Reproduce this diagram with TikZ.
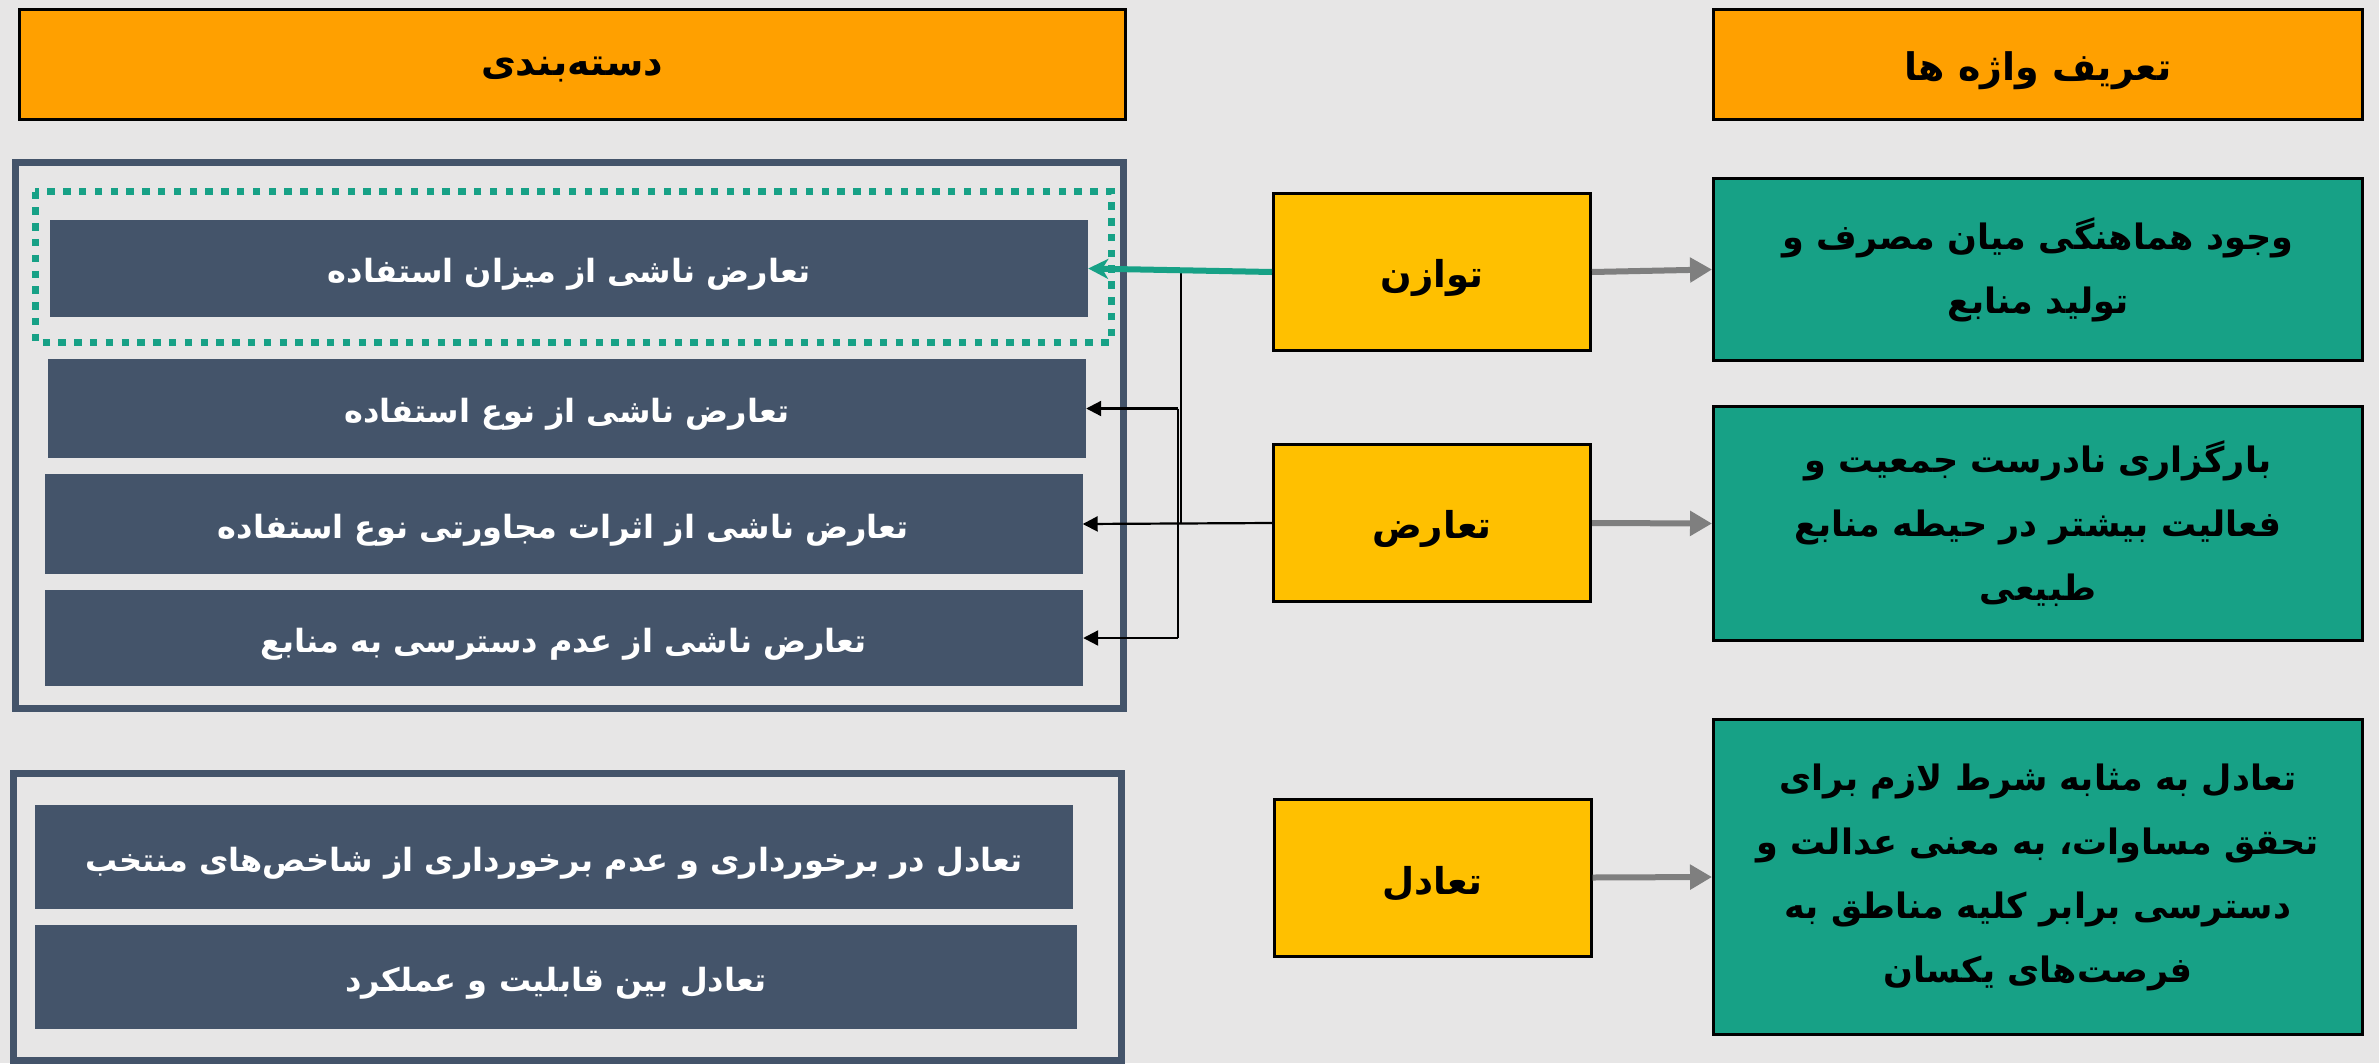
\documentclass[tikz,border=0pt]{standalone}
\usepackage{fontspec}
\usetikzlibrary{arrows.meta}
\TeXXeTstate=1
\newfontfamily\arabicfont[Script=Arabic]{DejaVu Sans}
\newcommand\prs[1]{\beginR #1\endR}
\newcommand\prsd[1]{\raisebox{-6pt}[\height][\depth]{\beginR #1\endR}}
\definecolor{bgc}{HTML}{E7E6E6}
\definecolor{hdrc}{HTML}{FFA000}
\definecolor{yelc}{HTML}{FFC000}
\definecolor{tealc}{HTML}{17A186}
\definecolor{slatec}{HTML}{44546A}
\definecolor{grayc}{HTML}{7F7F7F}
\tikzset{
  hdr/.style={draw=black, line width=3pt, fill=hdrc, inner sep=0pt, minimum height=110pt,
    font=\arabicfont\bfseries\fontsize{38}{44}\selectfont},
  cat/.style={fill=slatec, text=white, inner sep=0pt, minimum width=1038pt,
    font=\arabicfont\bfseries\fontsize{32}{38}\selectfont},
  keybox/.style={draw=black, line width=3pt, fill=yelc, inner sep=0pt, minimum width=317pt, minimum height=157pt,
    font=\arabicfont\bfseries\fontsize{37}{42}\selectfont},
  defbox/.style={draw=black, line width=3pt, fill=tealc, inner sep=0pt, minimum width=649pt, align=center,
    font=\arabicfont\bfseries\fontsize{35}{64}\selectfont},
  frm/.style={draw=slatec, line width=7pt},
  dotfrm/.style={draw=tealc, line width=7pt, dash pattern=on 7.5pt off 8.3pt},
  bline/.style={draw=black, line width=2.2pt},
  barr/.style={bline, -{Triangle[length=15pt,width=15pt]}},
  garr/.style={draw=grayc, line width=6pt, -{Triangle[length=22pt,width=24pt]}},
  tarr/.style={draw=tealc, line width=6pt, -{Stealth[length=20pt,width=20pt,inset=6pt]}}
}
\begin{document}
\begin{tikzpicture}[x=1pt,y=-1pt]
\fill[bgc] (0,0) rectangle (2379,1063);
\useasboundingbox (0,0) rectangle (2379,1063);
% headers
\node[hdr, minimum width=1106pt] (HL) at (572,64) {\prsd{دسته‌بندی}};
\node[hdr, minimum width=649pt] (HR) at (2038,64.5) {\prsd{تعریف واژه ها}};
% frames
\draw[frm] (15,162) rectangle (1123.5,708);
\draw[frm] (13,773.5) rectangle (1121.5,1060);
\draw[dotfrm] (35,191.5) rectangle (1111,342);
% category boxes
\node[cat, minimum height=97pt] (B1) at (569,268.5) {\prsd{تعارض ناشی از میزان استفاده}};
\node[cat, minimum height=99pt] (B2) at (567,408.5) {\prsd{تعارض ناشی از نوع استفاده}};
\node[cat, minimum height=100pt] (B3) at (563.5,524) {\prsd{تعارض ناشی از اثرات مجاورتی نوع استفاده}};
\node[cat, minimum height=96pt] (B4) at (564,638) {\prsd{تعارض ناشی از عدم دسترسی به منابع}};
\node[cat, minimum height=104pt] (B5) at (554,857) {\prsd{تعادل در برخورداری و عدم برخورداری از شاخص‌های منتخب}};
\node[cat, minimum height=104pt, minimum width=1042pt] (B6) at (556,977) {\prsd{تعادل بین قابلیت و عملکرد}};
% key terms
\node[keybox] (Y1) at (1432,272) {\prsd{توازن}};
\node[keybox] (Y2) at (1432,523) {\prsd{تعارض}};
\node[keybox] (Y3) at (1432.5,877.5) {\prsd{تعادل}};
% definitions
\node[defbox, minimum height=182pt] (GA) at (2038,269.5) {\prs{وجود هماهنگی میان مصرف و}\\\prs{تولید منابع}};
\node[defbox, minimum height=234pt] (GB) at (2038,523.5) {\prs{بارگزاری نادرست جمعیت و}\\\prs{فعالیت بیشتر در حیطه منابع}\\\prs{طبیعی}};
\node[defbox, minimum height=315pt] (GC) at (2038,877) {\prs{تعادل به مثابه شرط لازم برای}\\\prs{تحقق مساوات، به معنی عدالت و}\\\prs{دسترسی برابر کلیه مناطق به}\\\prs{فرصت‌های یکسان}};
% connectors
\draw[garr] (Y1.east) -- (GA.west);
\draw[garr] (Y2.east) -- (GB.west);
\draw[garr] (Y3.east) -- (GC.west);
\coordinate (jA) at (1181,0);
\coordinate (jB) at (1178,0);
\draw[bline] (jA |- Y1.west) -- (jA |- Y2.west);
\draw[bline] (jB |- B2.east) -- (jB |- B4.east);
\draw[barr] (Y2.west) -- (B3.east);
\draw[barr] (jB |- B2.east) -- (B2.east);
\draw[barr] (jB |- B4.east) -- (B4.east);
\draw[tarr] (Y1.west) -- (B1.east);
\end{tikzpicture}
\end{document}
